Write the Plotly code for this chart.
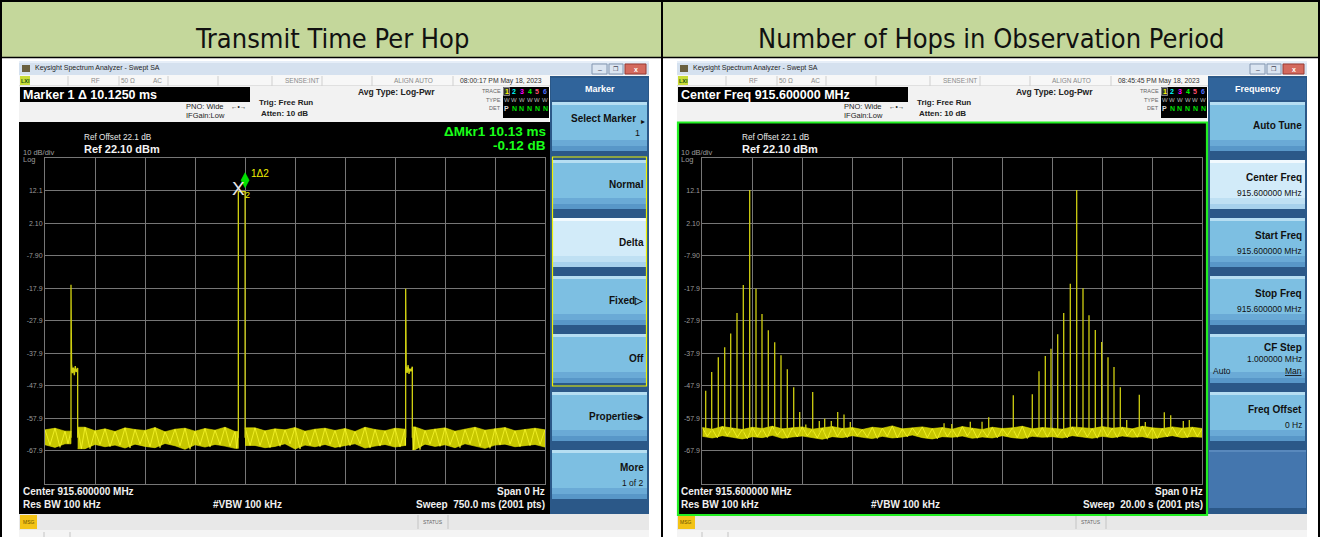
import plotly.graph_objects as go

W, H = 1320, 537
SANS = "Liberation Sans, Arial, sans-serif"
NARROW = "Liberation Sans Narrow, Arial Narrow, DejaVu Sans Condensed, sans-serif"

# ------------------------------------------------------------------ data
panel_titles = ["Transmit Time Per Hop", "Number of Hops in Observation Period"]

ref_level_dbm = 22.1
bottom_level_dbm = -77.9
y_tick_vals = [12.1, 2.1, -7.9, -17.9, -27.9, -37.9, -47.9, -57.9, -67.9]
y_tick_text = ["12.1", "2.10", "-7.90", "-17.9", "-27.9", "-37.9", "-47.9", "-57.9", "-67.9"]

# left screen: zero span, 750 ms sweep
left_sweep_ms = 750.0
main_pulse_start_ms = 290.0
main_pulse_end_ms = 300.125
main_pulse_level_dbm = 11.8
side_pulse_start_ms = [39.0, 541.0]
side_pulse_end_ms = [49.0, 551.0]
side_pulse_spike_dbm = [-16.8, -18.0]
side_plateau_offset_ms = [0.8, 2.2, 3.6, 5.0, 6.4, 7.8, 9.2]
side_plateau_dbm = [
    [-41.2, -44.0, -42.3, -44.6, -41.8, -43.6, -42.4],
    [-41.8, -43.9, -41.5, -44.2, -42.6, -43.4, -42.0],
]
left_floor_mid_dbm = -63.8
left_noise_upper = [-61.4, -60.9, -61.8, -61.2, -60.6, -61.7, -61.1, -61.9, -60.8, -61.3,
                    -61.6, -60.7, -62.0, -61.2, -60.9, -61.8, -61.0, -61.5, -60.6, -61.9,
                    -61.3, -60.8, -61.7, -61.1, -61.4, -60.7, -61.8, -61.2, -60.9, -61.6,
                    -61.0, -61.9, -60.6, -61.3, -61.7, -60.9, -61.2, -60.5, -61.6, -61.1,
                    -60.8, -61.8, -61.3, -60.6, -61.5, -61.0, -60.7, -61.7, -61.2, -60.9, -61.4]
left_noise_lower = [-66.0, -66.8, -65.7, -66.4, -67.2, -65.9, -66.6, -66.1, -67.0, -65.8,
                    -66.5, -66.9, -65.6, -66.3, -67.4, -66.0, -66.7, -65.9, -66.4, -67.1,
                    -65.8, -66.2, -66.9, -66.5, -65.7, -67.3, -66.1, -66.6, -65.9, -66.8,
                    -66.3, -65.7, -67.0, -66.4, -65.9, -66.7, -66.2, -67.5, -65.8, -66.5,
                    -66.0, -66.9, -65.7, -66.4, -67.1, -66.1, -65.8, -66.6, -66.3, -65.9, -66.7]

# right screen: zero span, 20 s sweep, one line per hop dwell
right_sweep_s = 20.0
hop_times_s = [0.136, 0.376, 0.64, 0.896, 1.136, 1.388, 1.64, 1.896, 2.148, 2.388, 2.64,
               2.896, 3.148, 3.40, 3.656, 3.896, 4.14, 4.416, 4.68, 4.896, 5.16, 5.416,
               5.668, 5.92, 9.67, 9.98, 10.72, 11.19, 11.456,
               12.44, 13.20, 13.468, 13.72, 13.948, 14.216, 14.456, 14.72, 14.976,
               15.228, 15.468, 15.72, 15.976, 16.228, 16.468, 16.72, 16.976, 17.48,
               17.72, 18.48, 18.736, 19.24, 19.48]
hop_peaks_dbm = [-49.4, -43.6, -39.1, -36.0, -31.8, -25.5, -16.9, 12.3, -18.0, -25.8, -30.8,
                 -34.5, -38.5, -42.8, -48.3, -55.9, -59.8, -49.8, -58.7, -58.0, -58.7, -55.9,
                 -56.7, -59.0, -59.4, -59.6, -58.9, -58.9, -57.5,
                 -50.8, -50.5, -43.4, -38.7, -36.5, -32.0, -25.5, -16.5, 12.3,
                 -17.9, -26.2, -30.7, -34.4, -39.1, -42.1, -48.3, -58.4, -50.6,
                 -59.0, -56.0, -56.9, -58.7, -58.4]
right_floor_mid_dbm = -62.2
right_noise_upper = [-60.7, -61.2, -60.4, -60.9, -61.3, -60.6, -61.0, -60.3, -61.1, -60.8,
                     -60.5, -61.2, -60.9, -60.4, -61.0, -60.7, -61.3, -60.6, -60.9, -60.2,
                     -61.1, -60.8, -60.5, -61.0, -60.7, -61.2, -60.4, -60.9, -61.3, -60.6,
                     -61.0, -60.8, -60.3, -61.1, -60.7, -60.9, -61.2, -60.5, -60.8, -61.0,
                     -60.4, -60.9, -60.6, -61.1, -60.3, -60.8, -61.0, -60.5, -60.9, -60.6, -61.0]
right_noise_lower = [-63.4, -63.9, -63.2, -63.7, -64.2, -63.5, -63.8, -63.1, -64.0, -63.6,
                     -63.3, -63.9, -64.3, -63.5, -63.8, -63.2, -63.7, -64.1, -63.4, -63.9,
                     -63.6, -63.0, -63.8, -64.2, -63.5, -63.7, -63.3, -64.0, -63.6, -63.9,
                     -63.2, -63.8, -64.1, -63.4, -63.7, -63.5, -63.9, -63.2, -63.6, -64.0,
                     -63.4, -63.8, -63.3, -63.7, -63.5, -64.1, -63.6, -63.2, -63.8, -63.5, -63.7]

# instrument texts
window_title = "Keysight Spectrum Analyzer - Swept SA"
timestamps = ["08:00:17 PM May 18, 2023", "08:45:45 PM May 18, 2023"]
active_function = ["Marker 1 \u0394 10.1250 ms", "Center Freq 915.600000 MHz"]
sweep_text = ["Sweep  750.0 ms (2001 pts)", "Sweep  20.00 s (2001 pts)"]
delta_readout = ["\u0394Mkr1 10.13 ms", "-0.12 dB"]
menu_titles = ["Marker", "Frequency"]
left_keys = [["Select Marker", "1"], ["Normal"], ["Delta"], ["Fixed\u25b7"], ["Off"],
             ["Properties\u25b8"], ["More", "1 of 2"]]
right_keys = [["Auto Tune"], ["Center Freq", "915.600000 MHz"], ["Start Freq", "915.600000 MHz"],
              ["Stop Freq", "915.600000 MHz"], ["CF Step", "1.000000 MHz"],
              ["Freq Offset", "0 Hz"], []]
left_selected_key = 2
right_selected_key = 1

# ------------------------------------------------------------------ helpers
shapes, anns = [], []


def px(x):
    return x / W


def py(y):
    return 1 - y / H


def rect(x0, y0, x1, y1, fill="rgba(0,0,0,0)", line=None, lw=0, layer="below"):
    shapes.append(dict(type="rect", xref="paper", yref="paper",
                       x0=px(x0), x1=px(x1), y0=py(y1), y1=py(y0),
                       fillcolor=fill, layer=layer,
                       line=dict(color=line or "rgba(0,0,0,0)", width=lw)))


def seg(x0, y0, x1, y1, color, w=1, layer="below"):
    shapes.append(dict(type="line", xref="paper", yref="paper",
                       x0=px(x0), x1=px(x1), y0=py(y0), y1=py(y1),
                       line=dict(color=color, width=w), layer=layer))


def text(x, y, s, size=8, color="#000", anchor="left", bold=False, family=SANS):
    if bold:
        s = "<b>" + s + "</b>"
    anns.append(dict(xref="paper", yref="paper", x=px(x), y=py(y), text=s,
                     showarrow=False, xanchor=anchor, yanchor="middle",
                     font=dict(size=size, color=color, family=family), borderpad=0))


def noise_traces(times, up, lo, gaps):
    pts = list(zip(times, up, lo))
    for g0, g1 in gaps:
        before = max((p for p in pts if p[0] <= g0), key=lambda p: p[0])
        after = min((p for p in pts if p[0] >= g1), key=lambda p: p[0])
        pts += [(g0, before[1], before[2]), (g1, after[1], after[2])]
    pts.sort()
    segs = {}
    for t, u, l in pts:
        if any(g0 < t < g1 for g0, g1 in gaps):
            continue
        k = sum(1 for g0, g1 in gaps if g1 <= t)
        segs.setdefault(k, []).append((t, u, l))
    fx, fy, zx, zy = [], [], [], []
    for k in sorted(segs):
        s = segs[k]
        ts = [p[0] for p in s]
        fx += ts + ts[::-1] + [None]
        fy += [p[1] for p in s] + [p[2] for p in s][::-1] + [None]
        for i, (t, u, l) in enumerate(s):
            zx.append(t)
            zy.append(u)
            if i + 1 < len(s):
                zx.append((t + s[i + 1][0]) / 2)
                zy.append(l)
        zx.append(None)
        zy.append(None)
    return fx, fy, zx, zy


fig = go.Figure()

# ------------------------------------------------------------------ table
rect(2, 2, 661, 57, "#c4d79b")
rect(663, 2, 1318, 57, "#c4d79b")
seg(1, 0, 1, H, "#000", 2)
seg(1319, 0, 1319, H, "#000", 2)
seg(0, 1, W, 1, "#000", 2)
seg(0, 57.5, W, 57.5, "#000", 1.5)
seg(662, 0, 662, H, "#000", 2)
text(331.5, 38.5, panel_titles[0], 27, "#111", "center", family=NARROW)
text(990.5, 38.5, panel_titles[1], 27, "#111", "center", family=NARROW)

# ------------------------------------------------------------------ instrument chrome
trace_colors = ["#ffff00", "#00ffff", "#ff00ff", "#00ff00", "#ff5070", "#5070ff"]
for p in range(2):
    ox = 658 * p
    X = lambda v: v + ox
    # title bar
    rect(X(19), 61, X(649), 75, "#d5e1ef")
    rect(X(19), 61, X(649), 63, "#e6eef8")
    rect(X(22), 65, X(30), 72, "#6b6140")
    text(X(34), 68.5, window_title, 7, "#1e1e1e")
    rect(X(592), 64, X(607), 74, "#dbe5f1", "#8396b0", 1)
    rect(X(609), 64, X(623), 74, "#dbe5f1", "#8396b0", 1)
    rect(X(625), 64, X(646), 74, "#d46a5e", "#9a3a32", 1)
    text(X(599.5), 69, "\u2013", 7, "#445", "center")
    text(X(616), 69, "\u2750", 6, "#445", "center")
    text(X(635.5), 69, "x", 7, "#fff", "center", True)
    # status row
    rect(X(19), 75, X(649), 86, "#f7f7f7")
    seg(X(19), 86, X(649), 86, "#c8c8c8", 1)
    rect(X(20), 76, X(30), 85, "#c9dc38")
    text(X(25), 80.5, "LXI", 5.5, "#145214", "center", True)
    for sx in [68, 119, 168, 218, 272, 322, 372, 453]:
        seg(X(sx), 76, X(sx), 86, "#cfcfcf", 1)
    text(X(95), 80.5, "RF", 6.5, "#8a8a8a", "center")
    text(X(128), 80.5, "50 \u03a9", 6.5, "#8a8a8a", "center")
    text(X(157), 80.5, "AC", 6.5, "#8a8a8a", "center")
    text(X(302), 80.5, "SENSE:INT", 6.5, "#8a8a8a", "center")
    text(X(413), 80.5, "ALIGN AUTO", 6.5, "#8a8a8a", "center")
    text(X(501), 80.5, timestamps[p], 6.8, "#333", "center")
    # info row
    rect(X(19), 86, X(549), 122, "#f2f2f2")
    rect(X(20), 87, X(250), 102, "#000")
    text(X(22), 94.5, active_function[p], 12.5, "#fff", bold=True)
    text(X(185), 106, "PNO: Wide", 7.5, "#222")
    text(X(230), 106, "\u2190\u2022\u2192", 6.5, "#222")
    text(X(185), 115, "IFGain:Low", 7.5, "#222")
    text(X(258), 102, "Trig: Free Run", 8, "#222", bold=True)
    text(X(260), 113.5, "Atten: 10 dB", 8, "#222", bold=True)
    text(X(357), 92, "Avg Type: Log-Pwr", 8.5, "#222", bold=True)
    text(X(502), 91, "TRACE", 5.5, "#666", "right")
    text(X(502), 100, "TYPE", 5.5, "#666", "right")
    text(X(502), 108.5, "DET", 5.5, "#666", "right")
    rect(X(503), 87, X(549), 118, "#000")
    rect(X(503.5), 87.5, X(509.5), 95.5, "#333", "#aaa", 0.7)
    for i in range(6):
        cx = X(506.5 + 7.7 * i)
        text(cx, 91.5, str(i + 1), 7, trace_colors[i], "center", True)
        text(cx, 100, "W", 6, "#bbbbbb", "center")
        text(cx, 108.5, "P" if i == 0 else "N", 7, "#dddddd" if i == 0 else "#00e000", "center", True)
    # screen
    rect(X(19), 122, X(550), 514, "#000")
    text(X(83), 137, "Ref Offset 22.1 dB", 8.2, "#e8e8e8")
    text(X(83), 149.5, "Ref 22.10 dBm", 11, "#f4f4f4", bold=True)
    text(X(22), 152.5, "10 dB/div", 7.5, "#9c9c9c")
    text(X(22), 159.5, "Log", 7.5, "#9c9c9c")
    text(X(22), 491.5, "Center 915.600000 MHz", 10, "#f0f0f0", bold=True)
    text(X(22), 504.5, "Res BW 100 kHz", 10, "#f0f0f0", bold=True)
    text(X(212), 504.5, "#VBW 100 kHz", 10, "#f0f0f0", bold=True)
    text(X(546), 491.5, "Span 0 Hz", 10, "#f0f0f0", "right", True)
    text(X(546), 504.5, sweep_text[p], 10, "#f0f0f0", "right", True)
    # soft keys
    rect(X(550), 76, X(649), 514, "#2b5888")
    rect(X(551), 78, X(648), 100, "#30649b")
    text(X(600), 88.5, menu_titles[p], 9, "#ffffff", "center", True)
    keys = left_keys if p == 0 else right_keys
    sel = left_selected_key if p == 0 else right_selected_key
    for i, lab in enumerate(keys):
        top = 102 + 58 * i
        bot = top + 49
        if not lab:
            rect(X(551), top, X(648), bot + 9, "#4476ae")
            seg(X(551), top + 1, X(648), top + 1, "#6f9bcb", 1)
            continue
        if i == sel:
            body, hi, lo = "#d2ebf9", "#f1f9fe", "#a7d1ec"
        else:
            body, hi, lo = "#7dbfe2", "#b6def2", "#5897c8"
        rect(X(552), top, X(647), bot, body)
        rect(X(552), top, X(647), top + 3, hi)
        rect(X(552), bot - 11, X(647), bot - 5, "#6aaad6" if i != sel else "#bfe0f3")
        rect(X(552), bot - 5, X(647), bot, lo)
        cy = top + 24
        if len(lab) == 1:
            text(X(645), cy, lab[0], 10, "#111", "right", True)
        elif p == 0 and i == 0:
            text(X(637), cy - 8, lab[0], 10, "#111", "right", True)
            text(X(646), cy - 4, "\u25b8", 8, "#111", "right")
            text(X(641), cy + 6.5, lab[1], 9, "#111", "right")
        elif p == 0:
            text(X(645), cy - 7, lab[0], 10, "#111", "right", True)
            text(X(645), cy + 9, lab[1], 8.5, "#111", "right")
        elif lab[0] == "CF Step":
            text(X(645), cy - 11, lab[0], 10, "#111", "right", True)
            text(X(645), cy + 1, lab[1], 8.5, "#111", "right")
            text(X(554), cy + 13, "Auto", 8.5, "#111")
            text(X(645), cy + 13, "<u>Man</u>", 8.5, "#111", "right")
        else:
            text(X(645), cy - 7, lab[0], 10, "#111", "right", True)
            text(X(645), cy + 9, lab[1], 8.5, "#111", "right")
    # message bar
    rect(X(19), 514, X(649), 530, "#e8e8e8")
    rect(X(20), 515, X(37), 529, "#f3c316")
    text(X(28.5), 522, "MSG", 5, "#6b5200", "center")
    seg(X(418), 515, X(418), 529, "#c4c4c4", 1)
    seg(X(448), 515, X(448), 529, "#c4c4c4", 1)
    text(X(433), 522, "STATUS", 5, "#666", "center")
    rect(X(19), 530, X(649), 537, "#f4f4f4")
    seg(X(44), 532, X(44), 537, "#c4c4c4", 1)
    seg(X(70), 532, X(70), 537, "#c4c4c4", 1)

# left panel: active marker readout and yellow key group; right panel: green active-window frame
text(547, 131.5, delta_readout[0], 13.5, "#19ff19", "right", True)
text(547, 145.5, delta_readout[1], 13.5, "#19ff19", "right", True)
rect(552.5, 157, 646.5, 386, line="#f0f000", lw=1.2, layer="above")
rect(678, 122.5, 1207, 515, line="#22ee22", lw=2.2, layer="above")

# ------------------------------------------------------------------ traces: left screen
NOISE_FILL = "rgba(232,232,0,0.86)"
n_l = len(left_noise_upper)
left_times = [left_sweep_ms * i / (n_l - 1) for i in range(n_l)]
gaps_l = [(side_pulse_start_ms[0], side_pulse_end_ms[0]),
          (main_pulse_start_ms, main_pulse_end_ms),
          (side_pulse_start_ms[1], side_pulse_end_ms[1])]
fx, fy, zx, zy = noise_traces(left_times, left_noise_upper, left_noise_lower, gaps_l)
fig.add_trace(go.Scatter(x=fx, y=fy, mode="lines", fill="toself", fillcolor=NOISE_FILL,
                         line=dict(width=0.6, color="#e6e600"), hoverinfo="skip", xaxis="x", yaxis="y"))
fig.add_trace(go.Scatter(x=zx, y=zy, mode="lines", line=dict(color="#ffff30", width=0.7),
                         hoverinfo="skip", xaxis="x", yaxis="y"))

px_, py_ = [], []
for k in range(2):
    s, e = side_pulse_start_ms[k], side_pulse_end_ms[k]
    px_ += [s, s] + [s + o for o in side_plateau_offset_ms] + [e, e, None]
    py_ += [left_floor_mid_dbm, side_pulse_spike_dbm[k]] + side_plateau_dbm[k] + \
           [side_plateau_dbm[k][-1], left_floor_mid_dbm, None]
px_ += [main_pulse_start_ms, main_pulse_start_ms, main_pulse_end_ms, main_pulse_end_ms]
py_ += [left_floor_mid_dbm, main_pulse_level_dbm, main_pulse_level_dbm, left_floor_mid_dbm]
fig.add_trace(go.Scatter(x=px_, y=py_, mode="lines", line=dict(color="#cfcf10", width=1.3),
                         hoverinfo="skip", xaxis="x", yaxis="y"))

# markers (delta pair)
shapes.append(dict(type="path", xref="x", yref="y", xsizemode="pixel", ysizemode="pixel",
                   xanchor=main_pulse_end_ms, yanchor=main_pulse_level_dbm,
                   path="M 0 4 L 4 11.5 L 0 19 L -4 11.5 Z", fillcolor="#00e000",
                   line=dict(color="#00ff00", width=0.5), layer="above"))
anns.append(dict(xref="x", yref="y", x=main_pulse_start_ms, y=main_pulse_level_dbm, text="X",
                 showarrow=False, yshift=3, font=dict(size=19, color="#e6e6e6", family=SANS)))
anns.append(dict(xref="x", yref="y", x=main_pulse_start_ms, y=main_pulse_level_dbm, text="2",
                 showarrow=False, xshift=9, yshift=-3, font=dict(size=9, color="#f0f000", family=SANS)))
anns.append(dict(xref="x", yref="y", x=main_pulse_end_ms, y=main_pulse_level_dbm, text="1\u03942",
                 showarrow=False, xanchor="left", xshift=4, yshift=18,
                 font=dict(size=10, color="#f0f000", family=SANS)))

# ------------------------------------------------------------------ traces: right screen
n_r = len(right_noise_upper)
right_times = [right_sweep_s * i / (n_r - 1) for i in range(n_r)]
fx, fy, zx, zy = noise_traces(right_times, right_noise_upper, right_noise_lower, [])
fig.add_trace(go.Scatter(x=fx, y=fy, mode="lines", fill="toself", fillcolor=NOISE_FILL,
                         line=dict(width=0.6, color="#e6e600"), hoverinfo="skip", xaxis="x2", yaxis="y2"))
fig.add_trace(go.Scatter(x=zx, y=zy, mode="lines", line=dict(color="#ffff30", width=0.7),
                         hoverinfo="skip", xaxis="x2", yaxis="y2"))
hx, hy = [], []
for t, v in zip(hop_times_s, hop_peaks_dbm):
    hx += [t, t, None]
    hy += [right_floor_mid_dbm, v, None]
fig.add_trace(go.Scatter(x=hx, y=hy, mode="lines", line=dict(color="#cfcf10", width=1.3),
                         hoverinfo="skip", xaxis="x2", yaxis="y2"))

# ------------------------------------------------------------------ axes
GRID = "#767676"
ydom = [1 - 483.5 / H, 1 - 158.2 / H]
common_y = dict(range=[bottom_level_dbm, ref_level_dbm], tickvals=y_tick_vals, ticktext=y_tick_text,
                showgrid=True, gridcolor=GRID, gridwidth=1, zeroline=False, showline=True,
                mirror=True, linecolor=GRID, linewidth=1, ticks="",
                tickfont=dict(size=7, color="#9a9a9a", family=SANS), fixedrange=True)
fig.update_layout(
    width=W, height=H, margin=dict(l=0, r=0, t=0, b=0),
    paper_bgcolor="#ffffff", plot_bgcolor="rgba(0,0,0,0)", showlegend=False,
    xaxis=dict(domain=[45 / W, 545 / W], range=[0, left_sweep_ms],
               tickvals=[left_sweep_ms * i / 10 for i in range(1, 10)], showticklabels=False,
               showgrid=True, gridcolor=GRID, zeroline=False, showline=True, mirror=True,
               linecolor=GRID, linewidth=1, ticks="", fixedrange=True),
    yaxis=dict(domain=ydom, anchor="x", **common_y),
    xaxis2=dict(domain=[702.3 / W, 1202.3 / W], range=[0, right_sweep_s], anchor="y2",
                tickvals=[right_sweep_s * i / 10 for i in range(1, 10)], showticklabels=False,
                showgrid=True, gridcolor=GRID, zeroline=False, showline=True, mirror=True,
                linecolor=GRID, linewidth=1, ticks="", fixedrange=True),
    yaxis2=dict(domain=ydom, anchor="x2", **common_y),
    shapes=shapes, annotations=anns,
)

fig.write_html("out.html", post_script="document.body.style.margin='0px';",
               config={"displayModeBar": False})
